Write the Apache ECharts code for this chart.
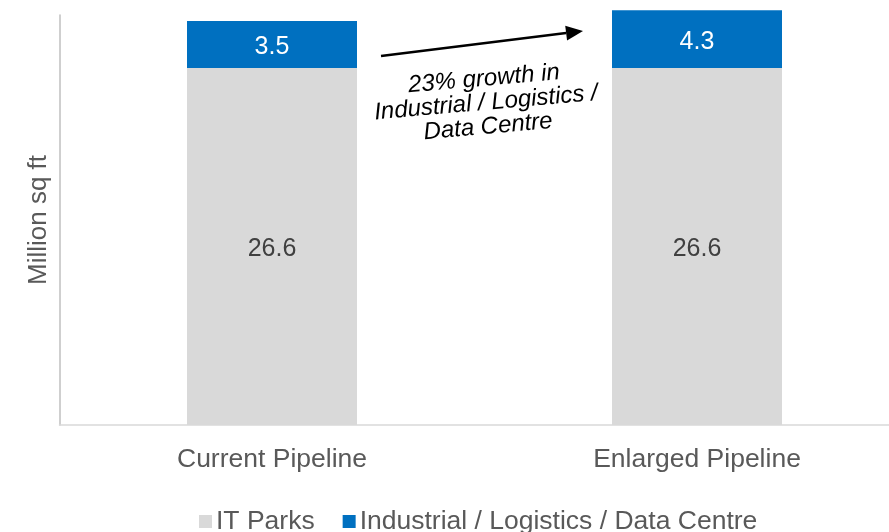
<!DOCTYPE html>
<html>
<head>
<meta charset="utf-8">
<script src="https://cdn.jsdelivr.net/npm/echarts@6/dist/echarts.min.js"></script>
<style>
html,body{margin:0;padding:0;background:#fff;overflow:hidden;width:889px;height:532px;}
#chart{width:910px;height:532px;}
</style>
</head>
<body>
<div id="chart"></div>
<script>
var categories = ['Current Pipeline', 'Enlarged Pipeline'];
var itParks = [26.6, 26.6];
var industrial = [3.5, 4.3];
var seriesNames = ['IT Parks', 'Industrial / Logistics / Data Centre'];
var yAxisTitle = 'Million sq ft';
var annotationText = '23% growth in\nIndustrial / Logistics /\nData Centre';

var FONT = '"Liberation Sans", Arial, sans-serif';
var chart = echarts.init(document.getElementById('chart'), null, {renderer: 'canvas'});

// arrow geometry (annotation)
var ax0 = 381, ay0 = 56, ax1 = 583, ay1 = 31;
var ang = Math.atan2(ay1 - ay0, ax1 - ax0);
var hl = 17, hw = 7.5;
var bx = ax1 - hl * Math.cos(ang), by = ay1 - hl * Math.sin(ang);
var px = -Math.sin(ang), py = Math.cos(ang);

var option = {
  animation: false,
  backgroundColor: '#ffffff',
  grid: {left: 59.5, right: 0.5, top: 15, bottom: 107, containLabel: false},
  legend: {
    left: 199, top: 508, padding: 0,
    itemWidth: 13, itemHeight: 13, itemGap: 28,
    icon: 'rect',
    textStyle: {fontFamily: FONT, fontSize: 26.5, color: '#595959', padding: [0, 0, 0, -1]},
    data: seriesNames
  },
  xAxis: {
    type: 'category',
    data: categories,
    axisLine: {show: true, lineStyle: {color: '#d9d9d9', width: 1.5}},
    axisTick: {show: false},
    axisLabel: {fontFamily: FONT, fontSize: 26.5, color: '#595959', margin: 21}
  },
  yAxis: {
    type: 'value',
    min: 0, max: 30.55,
    name: yAxisTitle,
    nameLocation: 'middle',
    nameGap: 8,
    nameRotate: 90,
    nameTextStyle: {fontFamily: FONT, fontSize: 26, color: '#595959'},
    axisLine: {show: true, lineStyle: {color: '#bfbfbf', width: 1.5}},
    axisTick: {show: false},
    axisLabel: {show: false},
    splitLine: {show: false}
  },
  series: [
    {
      name: seriesNames[0], type: 'bar', stack: 'total', barWidth: 170, clip: false,
      itemStyle: {color: '#d9d9d9'},
      label: {show: true, position: 'inside', offset: [0, 3], fontFamily: FONT, fontSize: 25, color: '#404040',
        formatter: function (p) { return p.value.toFixed(1); }},
      data: itParks
    },
    {
      name: seriesNames[1], type: 'bar', stack: 'total', barWidth: 170, clip: false,
      itemStyle: {color: '#0070c0'},
      label: {show: true, position: 'inside', offset: [0, 3], fontFamily: FONT, fontSize: 25, color: '#ffffff',
        formatter: function (p) { return p.value.toFixed(1); }},
      data: industrial
    }
  ],
  graphic: [
    {
      type: 'line', silent: true,
      shape: {x1: ax0, y1: ay0, x2: bx, y2: by},
      style: {stroke: '#000', lineWidth: 2.5}
    },
    {
      type: 'polygon', silent: true,
      shape: {points: [[ax1, ay1], [bx + px * hw, by + py * hw], [bx - px * hw, by - py * hw]]},
      style: {fill: '#000'}
    },
    {
      type: 'text', silent: true,
      x: 486, y: 103,
      rotation: 5 * Math.PI / 180,
      style: {
        text: annotationText,
        x: 0, y: 0,
        align: 'center', verticalAlign: 'middle',
        font: 'italic 24px ' + FONT,
        lineHeight: 24,
        fill: '#000'
      }
    }
  ]
};
chart.setOption(option);
</script>
</body>
</html>
